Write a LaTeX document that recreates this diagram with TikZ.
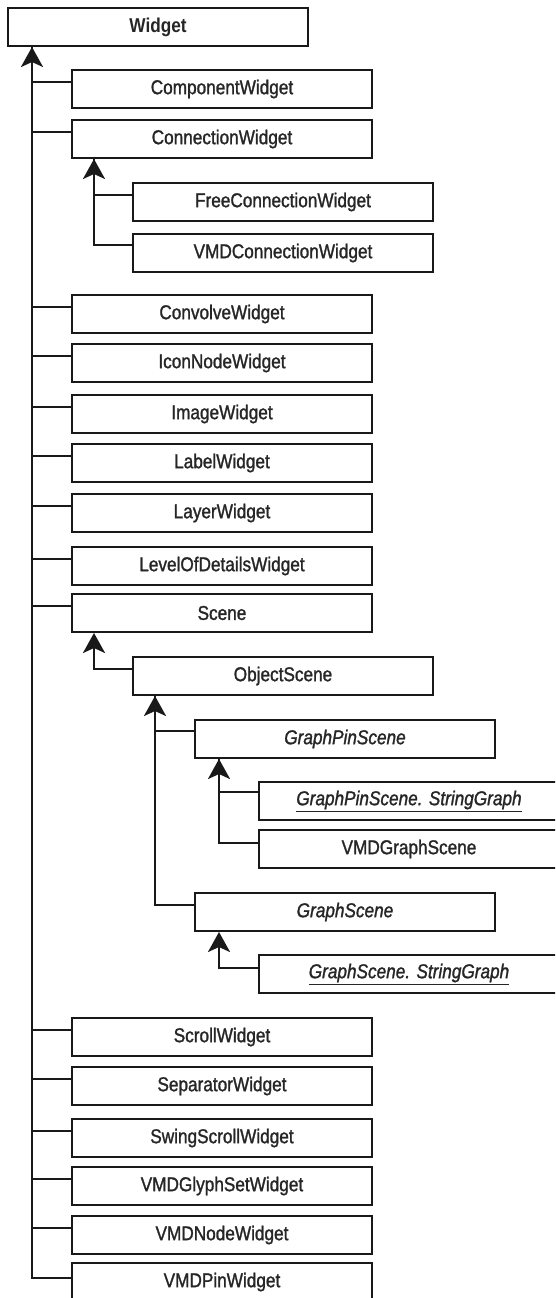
\documentclass[tikz,border=0pt]{standalone}
\usepackage{fontspec}
\setmainfont{Liberation Sans}[FakeStretch=0.86]
\newfontfamily\boxfont{Liberation Sans}[FakeStretch=0.86,FakeBold=1.3]
\usetikzlibrary{arrows.meta}
\begin{document}
\begin{tikzpicture}[x=1pt,y=-1pt,
  box/.style={draw=black!90, line width=2pt, minimum width=300pt, minimum height=38pt,
    inner sep=0pt, anchor=north west, font=\boxfont\fontsize{20}{24}\selectfont, text=black!85},
  conn/.style={line width=2.5pt, draw=black!90},
  arr/.style={conn, -{Stealth[length=20pt,width=22pt,inset=5pt]}}]
\clip (0,0) rectangle (555,1298);
\fill[white] (0,0) rectangle (555,1298);
% nodes
\node[box, font=\rmfamily\fontsize{20}{24}\selectfont\bfseries] (widget) at (7,7) {Widget};
\node[box] (comp) at (71,69) {ComponentWidget};
\node[box] (conn) at (71,119) {ConnectionWidget};
\node[box] (freeconn) at (132,182) {FreeConnectionWidget};
\node[box] (vmdconn) at (132,233) {VMDConnectionWidget};
\node[box] (convolve) at (71,294) {ConvolveWidget};
\node[box] (iconnode) at (71,343) {IconNodeWidget};
\node[box] (image) at (71,394) {ImageWidget};
\node[box] (label) at (71,443) {LabelWidget};
\node[box] (layer) at (71,493) {LayerWidget};
\node[box] (lod) at (71,546) {LevelOfDetailsWidget};
\node[box] (scene) at (71,593) {Scene};
\node[box] (objscene) at (132,656) {ObjectScene};
\node[box] (gpscene) at (194,719) {\textit{GraphPinScene}};
\node[box] (gpsstring) at (258,781) {\underline{\textit{GraphPinScene. StringGraph}}};
\node[box] (vmdgraph) at (258,829) {VMDGraphScene};
\node[box] (gscene) at (194,892) {\textit{GraphScene}};
\node[box] (gsstring) at (258,954) {\underline{\textit{GraphScene. StringGraph}}};
\node[box] (scroll) at (71,1017) {ScrollWidget};
\node[box] (separator) at (71,1066) {SeparatorWidget};
\node[box] (swing) at (71,1118) {SwingScrollWidget};
\node[box] (glyph) at (71,1166) {VMDGlyphSetWidget};
\node[box] (vmdnode) at (71,1215) {VMDNodeWidget};
\node[box] (vmdpin) at (71,1262) {VMDPinWidget};
% stems
\coordinate (s0) at ([xshift=25pt]widget.south west);
\coordinate (sconn) at ([xshift=23pt]conn.south west);
\coordinate (sscene) at ([xshift=23pt]scene.south west);
\coordinate (sobj) at ([xshift=23pt]objscene.south west);
\coordinate (sgp) at ([xshift=25pt]gpscene.south west);
\coordinate (sgs) at ([xshift=25pt]gscene.south west);
% Widget children
\foreach \n in {comp,conn,convolve,iconnode,image,label,layer,lod,scene,scroll,separator,swing,glyph,vmdnode}
  \draw[conn] ([yshift=-13pt]\n.north west) -| (s0);
\draw[arr] ([yshift=-16pt]vmdpin.north west) -| (s0);
% ConnectionWidget children
\draw[conn] ([yshift=-13pt]freeconn.north west) -| (sconn);
\draw[arr] ([yshift=-12pt]vmdconn.north west) -| (sconn);
% Scene children
\draw[arr] ([yshift=-13pt]objscene.north west) -| (sscene);
% ObjectScene children
\draw[conn] ([yshift=-12pt]gpscene.north west) -| (sobj);
\draw[arr] ([yshift=-13pt]gscene.north west) -| (sobj);
% GraphPinScene children
\draw[conn] ([yshift=-11pt]gpsstring.north west) -| (sgp);
\draw[arr] ([yshift=-14pt]vmdgraph.north west) -| (sgp);
% GraphScene children
\draw[arr] ([yshift=-14pt]gsstring.north west) -| (sgs);
\end{tikzpicture}
\end{document}
